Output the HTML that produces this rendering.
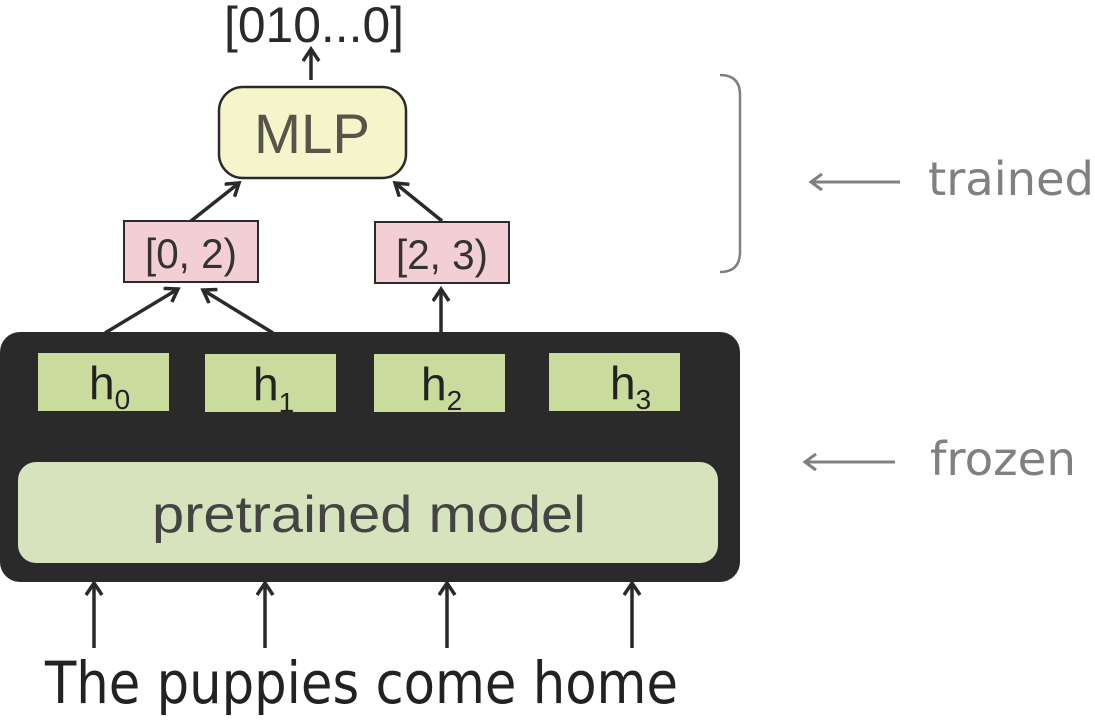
<!DOCTYPE html>
<html><head><meta charset="utf-8"><style>
html,body{margin:0;padding:0;background:#fff;}
svg{display:block}
</style></head><body>
<svg width="1095" height="720" viewBox="0 0 1095 720" xmlns="http://www.w3.org/2000/svg" font-family="Liberation Sans, sans-serif">
<defs>
<marker id="a" markerWidth="20" markerHeight="20" refX="14" refY="9" orient="auto" markerUnits="userSpaceOnUse">
<path d="M2,1 L14,9 L2,17" fill="none" stroke="#2a2a2a" stroke-width="3.5"/>
</marker>
<marker id="g" markerWidth="20" markerHeight="20" refX="13" refY="9" orient="auto" markerUnits="userSpaceOnUse">
<path d="M2,1 L13,9 L2,17" fill="none" stroke="#808080" stroke-width="3"/>
</marker>
</defs>
<g stroke="#2a2a2a" stroke-width="3.5" fill="none" marker-end="url(#a)">
<line x1="311" y1="80" x2="311" y2="49"/>
<line x1="191" y1="221" x2="239" y2="183"/>
<line x1="442" y1="221" x2="395" y2="183"/>
<line x1="105" y1="333" x2="178" y2="289"/>
<line x1="273" y1="333" x2="203" y2="290"/>
<line x1="441" y1="333" x2="441" y2="289"/>
<line x1="94" y1="648" x2="94" y2="583"/>
<line x1="265" y1="648" x2="265" y2="583"/>
<line x1="447" y1="648" x2="447" y2="583"/>
<line x1="632" y1="648" x2="632" y2="583"/>
</g>
<text x="314" y="42" font-size="50" text-anchor="middle" fill="#2a2a2a" textLength="180" lengthAdjust="spacingAndGlyphs">[010...0]</text>
<rect x="219" y="87" width="187" height="91" rx="24" fill="#f5f4cb" stroke="#2a2a2a" stroke-width="2.5"/>
<text x="312" y="153" font-size="56" text-anchor="middle" fill="#55554a" textLength="116" lengthAdjust="spacingAndGlyphs">MLP</text>
<rect x="124" y="221" width="134" height="61" fill="#f2cfd5" stroke="#2a2a2a" stroke-width="2"/>
<text x="191" y="268" font-size="42" text-anchor="middle" fill="#333" textLength="92" lengthAdjust="spacingAndGlyphs">[0, 2)</text>
<rect x="375" y="222" width="134" height="61" fill="#f2cfd5" stroke="#2a2a2a" stroke-width="2"/>
<text x="442" y="269" font-size="42" text-anchor="middle" fill="#333" textLength="92" lengthAdjust="spacingAndGlyphs">[2, 3)</text>
<rect x="0" y="332" width="740" height="250" rx="20" fill="#2a2a2a"/>
<g fill="#c9db9d">
<rect x="38" y="353" width="131" height="58"/>
<rect x="205" y="354" width="131" height="58"/>
<rect x="374" y="354" width="131" height="58"/>
<rect x="549" y="353" width="131" height="58"/>
</g>
<g font-size="46" fill="#222">
<text x="89" y="399">h<tspan font-size="28" dy="10">0</tspan></text>
<text x="253" y="400">h<tspan font-size="28" dy="12">1</tspan></text>
<text x="421" y="400">h<tspan font-size="28" dy="10">2</tspan></text>
<text x="610" y="399">h<tspan font-size="28" dy="10">3</tspan></text>
</g>
<rect x="18" y="462" width="700" height="101" rx="18" fill="#d6e3bd"/>
<text x="369" y="532" font-size="52" text-anchor="middle" fill="#444" textLength="434" lengthAdjust="spacingAndGlyphs">pretrained model</text>
<path d="M720,75 Q740,75 740,95 L740,252 Q740,272 720,272" fill="none" stroke="#808080" stroke-width="2.5"/>
<line x1="900" y1="182" x2="811" y2="182" stroke="#808080" stroke-width="3" marker-end="url(#g)"/>
<line x1="895" y1="462" x2="805" y2="462" stroke="#808080" stroke-width="3" marker-end="url(#g)"/>
<text x="928" y="195" font-size="46" fill="#808080" font-family="DejaVu Sans, sans-serif" textLength="166" lengthAdjust="spacingAndGlyphs">trained</text>
<text x="930" y="475" font-size="46" fill="#808080" font-family="DejaVu Sans, sans-serif" textLength="146" lengthAdjust="spacingAndGlyphs">frozen</text>
<text x="45" y="703" font-size="58" fill="#222" textLength="633" lengthAdjust="spacingAndGlyphs" font-family="DejaVu Sans, sans-serif">The puppies come home</text>
</svg>
</body></html>
